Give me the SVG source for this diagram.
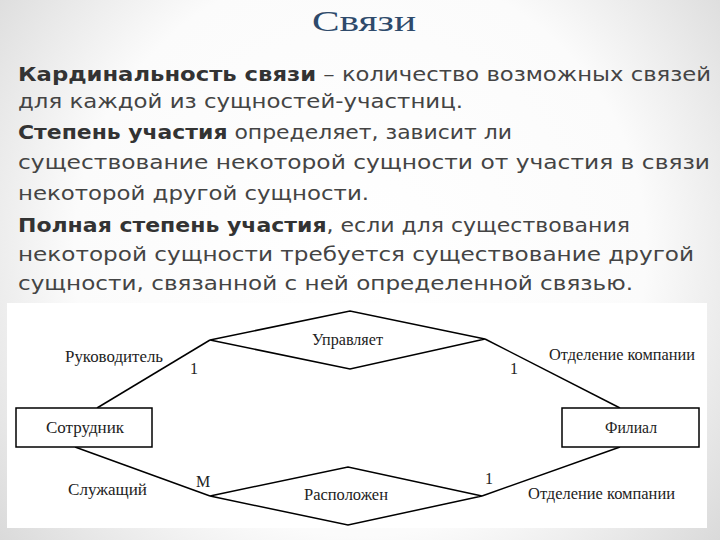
<svg xmlns="http://www.w3.org/2000/svg" width="720" height="540" viewBox="0 0 720 540">
  <defs>
    <radialGradient id="bg" cx="360" cy="250" r="520" gradientUnits="userSpaceOnUse">
      <stop offset="0" stop-color="#ffffff"/>
      <stop offset="0.55" stop-color="#fbfbfb"/>
      <stop offset="1" stop-color="#cfcfcf"/>
    </radialGradient>
  </defs>
  <style>
    .title { font-family: "Liberation Serif", "DejaVu Serif", serif; font-size: 30px; fill: #2e4a6b; }
    .body { font-family: "DejaVu Sans", "Liberation Sans", sans-serif; font-size: 20px; fill: #444444; }
    .b { font-weight: bold; fill: #333333; }
    .ent { fill: #ffffff; stroke: #000000; stroke-width: 1.5; }
    .rel { fill: none; stroke: #000000; stroke-width: 1.5; stroke-linejoin: miter; }
    .lbl { font-family: "Liberation Serif", "Times New Roman", serif; font-size: 16px; fill: #222222; }
    .conn line { stroke: #000000; stroke-width: 1.5; }
  </style>

  <rect x="0" y="0" width="720" height="540" fill="url(#bg)"/>

  <text class="title" x="312" y="31" textLength="104" lengthAdjust="spacingAndGlyphs">Связи</text>

  <g id="body-text">
    <text class="body" x="18" y="81" textLength="693" lengthAdjust="spacingAndGlyphs"><tspan class="b">Кардинальность связи</tspan> – количество возможных связей</text>
    <text class="body" x="18" y="108" textLength="445" lengthAdjust="spacingAndGlyphs">для каждой из сущностей-участниц.</text>
    <text class="body" x="18" y="139" textLength="494" lengthAdjust="spacingAndGlyphs"><tspan class="b">Степень участия</tspan> определяет, зависит ли</text>
    <text class="body" x="18" y="169" textLength="692" lengthAdjust="spacingAndGlyphs">существование некоторой сущности от участия в связи</text>
    <text class="body" x="18" y="200" textLength="351" lengthAdjust="spacingAndGlyphs">некоторой другой сущности.</text>
    <text class="body" x="18" y="232" textLength="612" lengthAdjust="spacingAndGlyphs"><tspan class="b">Полная степень участия</tspan>, если для существования</text>
    <text class="body" x="18" y="261" textLength="676" lengthAdjust="spacingAndGlyphs">некоторой сущности требуется существование другой</text>
    <text class="body" x="18" y="290" textLength="615" lengthAdjust="spacingAndGlyphs">сущности, связанной с ней определенной связью.</text>
  </g>

  <rect x="7" y="303" width="700" height="225" fill="#ffffff"/>

  <g id="connectors" class="conn">
    <line x1="97" y1="408" x2="210" y2="340"/>
    <line x1="485" y1="339" x2="620" y2="408"/>
    <line x1="75" y1="447" x2="210" y2="496"/>
    <line x1="482" y1="496" x2="620" y2="447"/>
  </g>

  <g id="sotrudnik">
    <rect class="ent" x="16" y="408" width="136" height="39"/>
    <text class="lbl" x="85" y="433" text-anchor="middle" textLength="78" lengthAdjust="spacingAndGlyphs">Сотрудник</text>
  </g>

  <g id="filial">
    <rect class="ent" x="562" y="408" width="137" height="39"/>
    <text class="lbl" x="631" y="433" text-anchor="middle" textLength="52" lengthAdjust="spacingAndGlyphs">Филиал</text>
  </g>

  <g id="upravlyaet">
    <polygon class="rel" points="210,340 350,311 485,339 350,369"/>
    <text class="lbl" x="312" y="345" textLength="71" lengthAdjust="spacingAndGlyphs">Управляет</text>
  </g>

  <g id="raspolozhen">
    <polygon class="rel" points="210,496 348,467 482,496 348,525"/>
    <text class="lbl" x="304" y="500" textLength="84" lengthAdjust="spacingAndGlyphs">Расположен</text>
  </g>

  <g id="labels">
    <text class="lbl" x="65" y="362" textLength="98" lengthAdjust="spacingAndGlyphs">Руководитель</text>
    <text class="lbl" x="190" y="374">1</text>
    <text class="lbl" x="549" y="360" textLength="146" lengthAdjust="spacingAndGlyphs">Отделение компании</text>
    <text class="lbl" x="510" y="374">1</text>
    <text class="lbl" x="68" y="495" textLength="79" lengthAdjust="spacingAndGlyphs">Служащий</text>
    <text class="lbl" x="196" y="487">М</text>
    <text class="lbl" x="485" y="484">1</text>
    <text class="lbl" x="528" y="499" textLength="147" lengthAdjust="spacingAndGlyphs">Отделение компании</text>
  </g>
</svg>
